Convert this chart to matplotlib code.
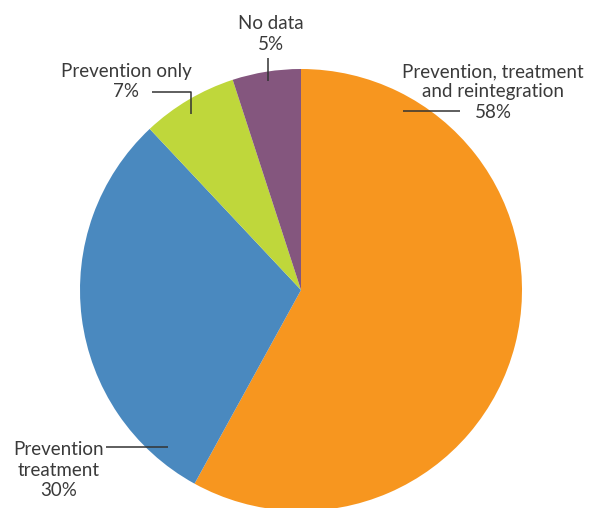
import matplotlib
matplotlib.use("Agg")
import matplotlib.pyplot as plt

categories = ["Prevention, treatment\nand reintegration", "Prevention\ntreatment", "Prevention only", "No data"]
values = [58, 30, 7, 5]
colors = ["#F7961F", "#4A89BF", "#BFD73B", "#84567E"]

W, H = 597, 508
fig = plt.figure(figsize=(W / 100, H / 100), dpi=100)
ax = fig.add_axes([0, 0, 1, 1])

def Y(y):
    return H - y

ax.pie(values, colors=colors, startangle=90, counterclock=False,
       center=(301, Y(290)), radius=221, wedgeprops=dict(linewidth=0))
ax.set_xlim(0, W)
ax.set_ylim(0, H)
ax.set_aspect("auto")
ax.axis("off")

tc = "#3a3a3a"
fs = 13.5
font = dict(family=["Lato", "DejaVu Sans"], fontsize=fs, color=tc, weight="normal",
            ha="center", va="center", linespacing=1.24)

labels = [f"{c}\n{v}%" for c, v in zip(categories, values)]
ax.text(493, Y(92), labels[0], **font)
ax.text(59, Y(470), labels[1], **font)
ax.text(126.5, Y(81.5), labels[2], **font)
ax.text(270.5, Y(34), labels[3], **font)

lk = dict(color="#333333", lw=1.1, solid_capstyle="butt")
ax.plot([403, 460], [Y(111), Y(111)], **lk)
ax.plot([106, 168], [Y(447), Y(447)], **lk)
ax.plot([152, 190.5, 190.5], [Y(92), Y(92), Y(114)], **lk)
ax.plot([268, 268], [Y(58), Y(81)], **lk)

fig.savefig("out.png", dpi=100)
